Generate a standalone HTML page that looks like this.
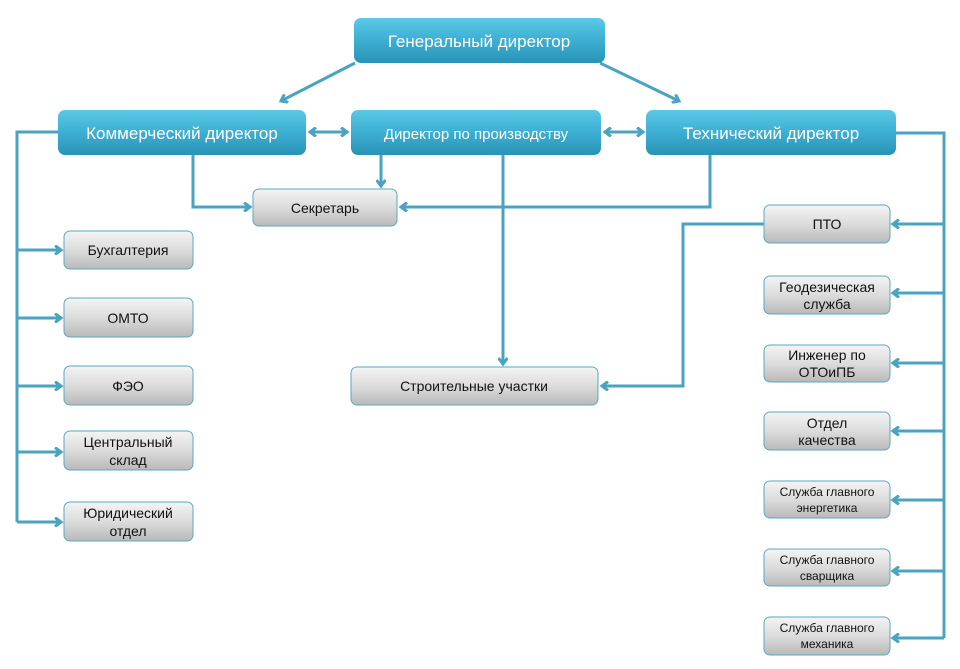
<!DOCTYPE html>
<html><head><meta charset="utf-8"><style>
html,body{margin:0;padding:0;background:#fff;}
svg{display:block;}
text{font-family:"Liberation Sans","DejaVu Sans",sans-serif;text-anchor:middle;}
.b text{fill:#fff;font-size:17px;}
.g text{fill:#111;font-size:14px;}
.s text{fill:#111;font-size:12px;}
</style></head><body>
<svg width="960" height="669" viewBox="0 0 960 669" xmlns="http://www.w3.org/2000/svg">
<defs>
<linearGradient id="bl" x1="0" y1="0" x2="0" y2="1">
<stop offset="0" stop-color="#5cc8e6"/><stop offset="0.5" stop-color="#3cafd2"/><stop offset="1" stop-color="#2a93b6"/></linearGradient>
<linearGradient id="gr" x1="0" y1="0" x2="0" y2="1">
<stop offset="0" stop-color="#f4f4f4"/><stop offset="0.5" stop-color="#dcdcdc"/><stop offset="1" stop-color="#b9b9b9"/></linearGradient>
<marker id="a" markerWidth="10" markerHeight="10" refX="7" refY="5" orient="auto" markerUnits="userSpaceOnUse">
<polyline points="1,0.5 7,5 1,9.5" fill="none" stroke="#4aa3c0" stroke-width="3"/></marker>
<marker id="as" markerWidth="10" markerHeight="10" refX="3" refY="5" orient="auto" markerUnits="userSpaceOnUse">
<polyline points="9,0.5 3,5 9,9.5" fill="none" stroke="#4aa3c0" stroke-width="3"/></marker>
</defs>
<g fill="none" stroke="#4aa3c0" stroke-width="3">
<line x1="355" y1="63" x2="281" y2="101" marker-end="url(#a)"/>
<line x1="600" y1="63" x2="679" y2="101" marker-end="url(#a)"/>
<line x1="310" y1="132" x2="347" y2="132" marker-start="url(#as)" marker-end="url(#a)"/>
<line x1="605" y1="132" x2="643" y2="132" marker-start="url(#as)" marker-end="url(#a)"/>
<polyline points="193,155 193,207 250,207" marker-end="url(#a)"/>
<line x1="381" y1="155" x2="381" y2="186" marker-end="url(#a)"/>
<polyline points="710,155 710,207 401,207" marker-end="url(#a)"/>
<line x1="503" y1="155" x2="503" y2="364" marker-end="url(#a)"/>
<polyline points="764,224 683,224 683,386 602,386" marker-end="url(#a)"/>
<polyline points="58,132 17,132 17,522"/>
<line x1="17" y1="250" x2="61" y2="250" marker-end="url(#a)"/>
<line x1="17" y1="318" x2="61" y2="318" marker-end="url(#a)"/>
<line x1="17" y1="386" x2="61" y2="386" marker-end="url(#a)"/>
<line x1="17" y1="452" x2="61" y2="452" marker-end="url(#a)"/>
<line x1="17" y1="522" x2="61" y2="522" marker-end="url(#a)"/>
<polyline points="896,133 944,133 944,638"/>
<line x1="944" y1="224" x2="893" y2="224" marker-end="url(#a)"/>
<line x1="944" y1="293" x2="893" y2="293" marker-end="url(#a)"/>
<line x1="944" y1="363" x2="893" y2="363" marker-end="url(#a)"/>
<line x1="944" y1="431" x2="893" y2="431" marker-end="url(#a)"/>
<line x1="944" y1="500" x2="893" y2="500" marker-end="url(#a)"/>
<line x1="944" y1="571" x2="893" y2="571" marker-end="url(#a)"/>
<line x1="944" y1="638" x2="893" y2="638" marker-end="url(#a)"/>
</g>
<g class="b">
<rect x="354" y="18" width="251" height="45" rx="7" fill="url(#bl)"/>
<text x="479" y="47">Генеральный директор</text>
<rect x="58" y="110" width="248" height="45" rx="7" fill="url(#bl)"/>
<text x="182" y="139">Коммерческий директор</text>
<rect x="351" y="110" width="250" height="45" rx="7" fill="url(#bl)"/>
<text x="476" y="139" style="font-size:15px">Директор по производству</text>
<rect x="646" y="110" width="250" height="45" rx="7" fill="url(#bl)"/>
<text x="771" y="139">Технический директор</text>
</g>
<g class="g" stroke="#5aa9c2" stroke-width="1">
<rect x="253" y="189" width="144" height="37" rx="6" fill="url(#gr)"/>
<rect x="64" y="231" width="129" height="38" rx="6" fill="url(#gr)"/>
<rect x="64" y="298" width="129" height="39" rx="6" fill="url(#gr)"/>
<rect x="64" y="366" width="129" height="39" rx="6" fill="url(#gr)"/>
<rect x="64" y="431" width="129" height="39" rx="6" fill="url(#gr)"/>
<rect x="64" y="502" width="129" height="39" rx="6" fill="url(#gr)"/>
<rect x="351" y="367" width="247" height="38" rx="6" fill="url(#gr)"/>
<rect x="764" y="205" width="126" height="38" rx="6" fill="url(#gr)"/>
<rect x="764" y="276" width="126" height="38" rx="6" fill="url(#gr)"/>
<rect x="764" y="345" width="126" height="37" rx="6" fill="url(#gr)"/>
<rect x="764" y="412" width="126" height="38" rx="6" fill="url(#gr)"/>
<rect x="764" y="481" width="126" height="37" rx="6" fill="url(#gr)"/>
<rect x="764" y="549" width="126" height="37" rx="6" fill="url(#gr)"/>
<rect x="764" y="617" width="126" height="38" rx="6" fill="url(#gr)"/>
</g>
<g class="g">
<text x="325" y="213">Секретарь</text>
<text x="128" y="255">Бухгалтерия</text>
<text x="128" y="323">ОМТО</text>
<text x="128" y="391">ФЭО</text>
<text x="128" y="447">Центральный</text><text x="128" y="465">склад</text>
<text x="128" y="518">Юридический</text><text x="128" y="536">отдел</text>
<text x="474" y="391">Строительные участки</text>
<text x="827" y="229">ПТО</text>
<text x="827" y="292">Геодезическая</text><text x="827" y="309">служба</text>
<text x="827" y="360">Инженер по</text><text x="827" y="377">ОТОиПБ</text>
<text x="827" y="428">Отдел</text><text x="827" y="445">качества</text>
</g>
<g class="s">
<text x="827" y="496">Служба главного</text><text x="827" y="512">энергетика</text>
<text x="827" y="564">Служба главного</text><text x="827" y="580">сварщика</text>
<text x="827" y="632">Служба главного</text><text x="827" y="648">механика</text>
</g>
</svg>
</body></html>
